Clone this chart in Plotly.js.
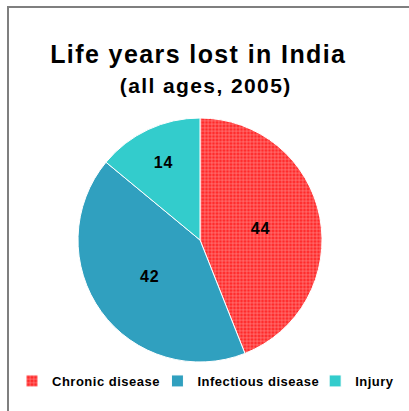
<!DOCTYPE html>
<html><head><meta charset="utf-8">
<script src="https://cdn.plot.ly/plotly-3.0.1.min.js"></script>
<style>
html,body{margin:0;padding:0;background:#fff;}
#wrap{position:relative;width:409px;height:411px;}
#frame{position:absolute;left:7px;top:6px;width:402px;height:405px;border-top:2px solid #7f7f7f;border-left:2px solid #7f7f7f;box-sizing:border-box;pointer-events:none;}
#chart{position:absolute;left:0;top:0;width:409px;height:411px;}
#chart .annotation-text{letter-spacing:1.4px;}
#chart .legendtext{letter-spacing:0.5px;}
#chart .slicetext{letter-spacing:0.8px;}
</style></head>
<body><div id="wrap"><div id="chart"></div><div id="frame"></div></div>
<script>
const categories = ["Chronic disease", "Infectious disease", "Injury"];
const values = [44, 42, 14];
const colors = ["#ff2a2a", "#30a0bf", "#33cccc"];
const titleLine1 = "Life years lost in India";
const titleLine2 = "(all ages, 2005)";

const W = 409, H = 411;
const trace = {
  type: "pie",
  labels: categories,
  values: values,
  sort: false,
  direction: "clockwise",
  rotation: 0,
  domain: {x: [78 / W, 322 / W], y: [(H - 362) / H, (H - 118) / H]},
  text: values.map(String),
  textinfo: "text",
  textposition: "inside",
  insidetextorientation: "horizontal",
  textfont: {family: "Liberation Sans, Arial, sans-serif", size: 16, color: "#000", weight: "bold"},
  marker: {
    colors: colors,
    line: {color: "#ffffff", width: 1},
    pattern: {shape: ["+", "", ""], fgcolor: "#ffffff", bgcolor: "#ff2a2a", size: 3.5, solidity: 0.3, fillmode: "overlay"}
  },
  hoverinfo: "label+value"
};

const layout = {
  width: W, height: H,
  margin: {l: 0, r: 0, t: 0, b: 0},
  paper_bgcolor: "#ffffff",
  showlegend: true,
  legend: {orientation: "h", x: 0.5, xanchor: "center", y: (H - 381) / H, yanchor: "middle",
    font: {family: "Liberation Sans, Arial, sans-serif", size: 13, color: "#000", weight: "bold"},
    itemwidth: 30, tracegroupgap: 0},
  annotations: [
    {text: "<b>" + titleLine1 + "</b>", xref: "paper", yref: "paper", x: 199 / W, y: (H - 54) / H, xanchor: "center", yanchor: "middle", showarrow: false,
     font: {family: "Liberation Sans, Arial, sans-serif", size: 25, color: "#000"}},
    {text: "<b>" + titleLine2 + "</b>", xref: "paper", yref: "paper", x: 205 / W, y: (H - 86) / H, xanchor: "center", yanchor: "middle", showarrow: false,
     font: {family: "Liberation Sans, Arial, sans-serif", size: 21, color: "#000"}}
  ]
};

Plotly.newPlot("chart", [trace], layout, {displayModeBar: false, staticPlot: true});
</script></body></html>
